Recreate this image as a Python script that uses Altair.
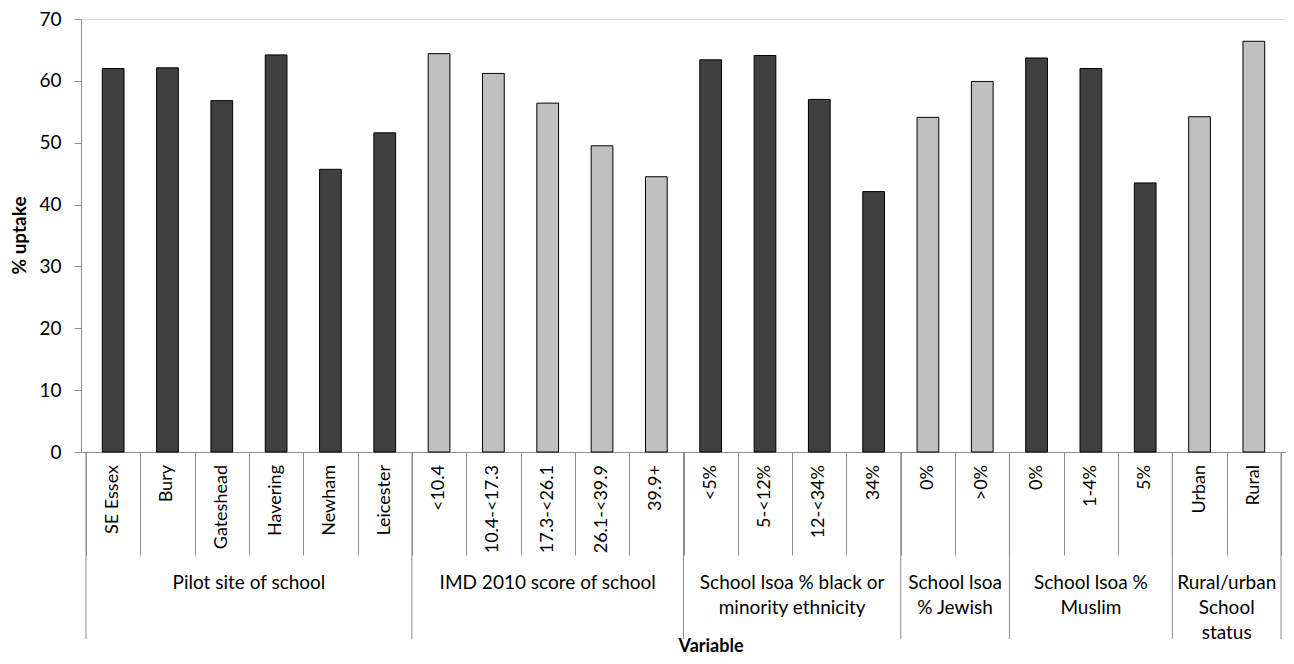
import altair as alt
import pandas as pd

# ---- data ----
categories = ["SE Essex", "Bury", "Gateshead", "Havering", "Newham", "Leicester",
              "<10.4", "10.4-<17.3", "17.3-<26.1", "26.1-<39.9", "39.9+",
              "<5%", "5-<12%", "12-<34%", "34%",
              "0%", ">0%",
              "0%", "1-4%", "5%",
              "Urban", "Rural"]
values = [62.0, 62.1, 56.8, 64.2, 45.7, 51.6,
          64.4, 61.2, 56.4, 49.5, 44.5,
          63.4, 64.1, 57.0, 42.1,
          54.1, 59.9,
          63.7, 62.0, 43.5,
          54.2, 66.4]
group_labels = [["Pilot site of school"],
                ["IMD 2010 score of school"],
                ["School lsoa % black or", "minority ethnicity"],
                ["School lsoa", "% Jewish"],
                ["School lsoa %", "Muslim"],
                ["Rural/urban", "School", "status"]]
group_sizes = [6, 5, 4, 2, 3, 2]
group_shades = ["dark", "light", "dark", "light", "dark", "light"]
y_ticks = [0, 10, 20, 30, 40, 50, 60, 70]

# ---- tables built from the arrays ----
shade_per_cat = []
starts = []
s = 0
for n, sh in zip(group_sizes, group_shades):
    starts.append(s)
    shade_per_cat += [sh] * n
    s += n
N = len(categories)

bars_df = pd.DataFrame({"idx": list(range(N)), "cat": categories,
                        "value": values, "shade": shade_per_cat})
groups_df = pd.DataFrame({"start": starts, "n": group_sizes, "label": group_labels})
bounds_df = pd.DataFrame({"pos": starts + [N]})

W, H = 1205, 433
FONT = "Lato"
GRAY = "#8c8c8c"

xscale = alt.Scale(domain=[0, N], nice=False, zero=False)
xaxis = alt.Axis(values=list(range(N + 1)), tickSize=103, labels=False, title=None,
                 grid=False, domainColor=GRAY, tickColor=GRAY)

bars = alt.Chart(bars_df).transform_calculate(
    x0="datum.idx + 0.3", x1="datum.idx + 0.7"
).mark_bar(stroke="black", strokeWidth=1, orient="vertical").encode(
    x=alt.X("x0:Q", scale=xscale, axis=xaxis),
    x2="x1:Q",
    y=alt.Y("value:Q", scale=alt.Scale(domain=[0, 70], nice=False),
            axis=alt.Axis(values=y_ticks, tickSize=7, title=None, grid=False,
                          labelFont=FONT, labelFontSize=19, labelColor="black",
                          labelPadding=13, domainColor=GRAY, tickColor=GRAY)),
    y2=alt.datum(0),
    fill=alt.Fill("shade:N", scale=alt.Scale(domain=["dark", "light"],
                                             range=["#404040", "#C0C0C0"]), legend=None),
)

seps = alt.Chart(bounds_df).mark_rule(color=GRAY, strokeWidth=1).encode(
    x=alt.X("pos:Q", scale=xscale, axis=xaxis),
    y=alt.value(H), y2=alt.value(620),
)

cat_labels = alt.Chart(bars_df).transform_calculate(
    mid="datum.idx + 0.5"
).mark_text(angle=270, align="right", baseline="middle", font=FONT,
            fontSize=18, color="black").encode(
    x=alt.X("mid:Q", scale=xscale, axis=xaxis),
    y=alt.value(446),
    text="cat:N",
)

group_text = alt.Chart(groups_df).transform_calculate(
    mid="datum.start + datum.n / 2"
).mark_text(align="center", baseline="alphabetic", lineHeight=25, font=FONT,
            fontSize=19, color="black").encode(
    x=alt.X("mid:Q", scale=xscale, axis=xaxis),
    y=alt.value(570),
    text="label",
)

ytitle = alt.Chart(pd.DataFrame({"t": ["% uptake"]})).mark_text(
    angle=270, align="center", baseline="middle", font=FONT, fontSize=19,
    fontWeight="bold", color="black"
).encode(x=alt.value(-61), y=alt.value(216.5), text="t:N")

xtitle = alt.Chart(pd.DataFrame({"t": ["Variable"]})).mark_text(
    align="center", baseline="alphabetic", font=FONT, fontSize=18,
    fontWeight="bold", color="black"
).encode(x=alt.value(630), y=alt.value(633), text="t:N")

chart = alt.layer(bars, seps, cat_labels, group_text, ytitle, xtitle).properties(
    width=W, height=H,
    padding={"left": 73, "top": 11, "right": 0, "bottom": 204},
    autosize=alt.AutoSizeParams(type="none"),
).configure_view(stroke=None).configure(background="white")

chart.save("out.html", embed_options={"renderer": "svg", "actions": False})
